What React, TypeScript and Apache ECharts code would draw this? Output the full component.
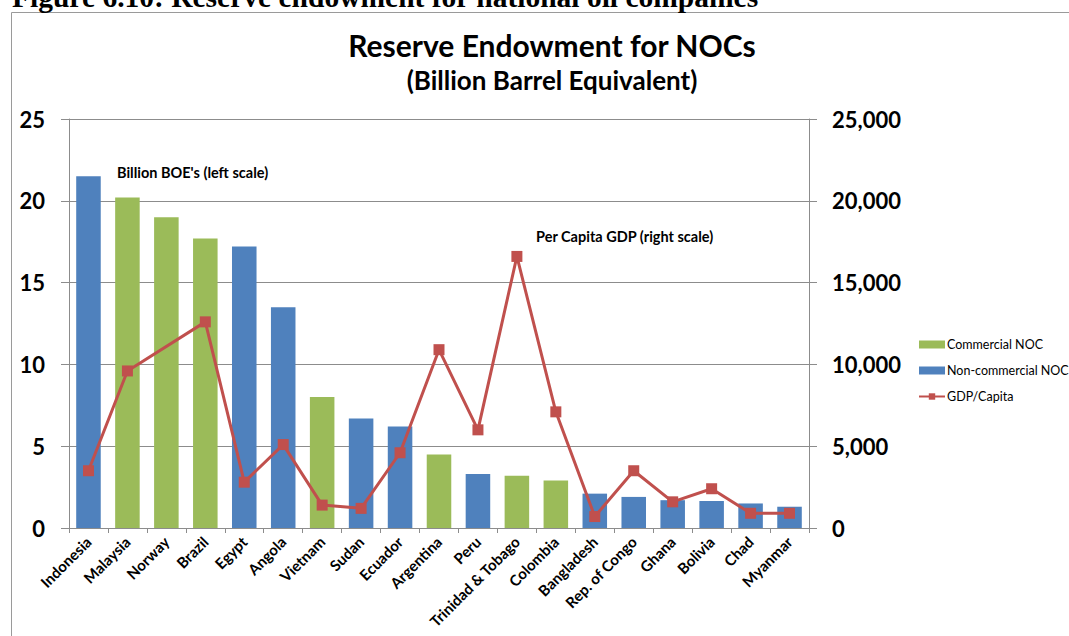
import React, { useEffect, useRef } from "react";
import * as echarts from "echarts";

const countries = ["Indonesia", "Malaysia", "Norway", "Brazil", "Egypt", "Angola", "Vietnam", "Sudan", "Ecuador", "Argentina", "Peru", "Trinidad & Tobago", "Colombia", "Bangladesh", "Rep. of Congo", "Ghana", "Bolivia", "Chad", "Myanmar"];
const reserves = [21.5, 20.2, 19.0, 17.7, 17.2, 13.5, 8.0, 6.7, 6.2, 4.5, 3.3, 3.2, 2.9, 2.1, 1.9, 1.7, 1.65, 1.5, 1.3];
const commercial = [false, true, true, true, false, false, true, false, false, true, false, true, true, false, false, false, false, false, false];
const gdpPerCapita: (number | null)[] = [3500, 9600, null, 12600, 2800, 5100, 1400, 1200, 4600, 10900, 6000, 16600, 7100, 700, 3500, 1600, 2400, 900, 900];
const leftTicks = [0, 5, 10, 15, 20, 25];
const rightTicks = [0, 5000, 10000, 15000, 20000, 25000];

const FONT = "Lato, 'Noto Sans', sans-serif";

export default function App() {
  const ref = useRef<HTMLDivElement>(null);
  useEffect(() => {
    const chart = echarts.init(ref.current!, null, { renderer: "svg" });
    const commercialData = reserves.map((v, i) => (commercial[i] ? v : null));
    const nonCommercialData = reserves.map((v, i) => (commercial[i] ? null : v));
    chart.setOption({
      animation: false,
      backgroundColor: "#ffffff",
      textStyle: { fontFamily: FONT },
      title: [
        {
          text: "Reserve Endowment for NOCs",
          left: 547, top: 25, textAlign: "center",
          textStyle: { fontFamily: FONT, fontWeight: "bold", fontSize: 30, color: "#000" },
        },
        {
          text: "(Billion Barrel Equivalent)",
          left: 547, top: 62, textAlign: "center",
          textStyle: { fontFamily: FONT, fontWeight: "bold", fontSize: 26, color: "#000" },
        },
      ],
      graphic: [
        {
          type: "text", left: 12, top: -18,
          style: { text: "Figure 6.10: Reserve endowment for national oil companies", font: "bold 29.5px 'Liberation Serif', serif", fill: "#000" },
        },
        {
          type: "rect", shape: { x: 11.5, y: 12.5, width: 1200, height: 800 },
          style: { fill: "none", stroke: "#9a9a9a", lineWidth: 1 }, silent: true, z: -1,
        },
        {
          type: "text", left: 117, top: 165,
          style: { text: "Billion BOE's (left scale)", font: `bold 14.5px ${FONT}`, fill: "#000" },
        },
        {
          type: "text", left: 536, top: 229,
          style: { text: "Per Capita GDP (right scale)", font: `bold 14.5px ${FONT}`, fill: "#000" },
        },
      ],
      legend: {
        orient: "vertical", left: 913, top: 333, itemWidth: 26, itemHeight: 8, itemGap: 13,
        textStyle: { fontFamily: FONT, fontSize: 12.5, color: "#000", padding: [0, 0, 0, -3] },
        data: [
          { name: "Commercial NOC", icon: "rect" },
          { name: "Non-commercial NOC", icon: "rect" },
          { name: "GDP/Capita" },
        ],
      },
      grid: { left: 69, right: 260, top: 119, bottom: 108, containLabel: false },
      xAxis: {
        type: "category", data: countries,
        axisLine: { lineStyle: { color: "#8c8c8c" } },
        axisTick: { show: true, length: 5, alignWithLabel: false, lineStyle: { color: "#8c8c8c" } },
        axisLabel: { rotate: 45, interval: 0, fontFamily: FONT, fontWeight: "bold", fontSize: 15, color: "#000", margin: 11 },
      },
      yAxis: [
        {
          type: "value", min: 0, max: 25, interval: 5,
          axisLine: { show: true, lineStyle: { color: "#8c8c8c" } },
          axisTick: { show: true, length: 8, lineStyle: { color: "#8c8c8c" } },
          splitLine: { lineStyle: { color: "#8c8c8c" } },
          axisLabel: { fontFamily: FONT, fontWeight: "bold", fontSize: 22, color: "#000", margin: 24,
            formatter: (v: number) => (leftTicks.includes(v) ? String(v) : "") },
        },
        {
          type: "value", min: 0, max: 25000, interval: 5000,
          axisLine: { show: true, lineStyle: { color: "#8c8c8c" } },
          axisTick: { show: true, length: 8, lineStyle: { color: "#8c8c8c" } },
          splitLine: { show: false },
          axisLabel: { fontFamily: FONT, fontWeight: "bold", fontSize: 22, color: "#000", margin: 23,
            formatter: (v: number) => (rightTicks.includes(v) ? v.toLocaleString("en-US") : "") },
        },
      ],
      series: [
        {
          name: "Commercial NOC", type: "bar", data: commercialData, barWidth: "63%", barGap: "-100%",
          itemStyle: { color: "#9BBB59" },
        },
        {
          name: "Non-commercial NOC", type: "bar", data: nonCommercialData, barWidth: "63%", barGap: "-100%",
          itemStyle: { color: "#4F81BD" },
        },
        {
          name: "GDP/Capita", type: "line", yAxisIndex: 1, data: gdpPerCapita, connectNulls: true,
          symbol: "rect", symbolSize: 11,
          lineStyle: { color: "#C0504D", width: 3 },
          itemStyle: { color: "#C0504D" },
        },
      ],
    });
    return () => chart.dispose();
  }, []);
  return <div ref={ref} style={{ position: "absolute", left: 0, top: 0, width: 1069, height: 636 }} />;
}
